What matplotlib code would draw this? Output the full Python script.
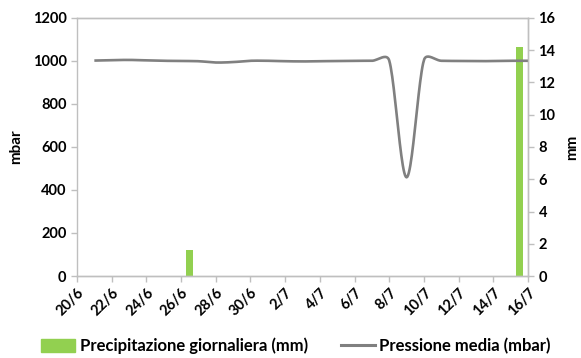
import numpy as np
import matplotlib
matplotlib.use("Agg")
import matplotlib.pyplot as plt
from matplotlib.lines import Line2D
from matplotlib.patches import Patch

# days counted from 20/6
day = np.arange(1, 27)  # 21/6 .. 16/7
pressione = [1002, 1004, 1005, 1003, 1001, 1000, 999, 993, 995, 1001,
             1001, 999, 998, 999, 1000, 1001, 1001, 1002, 459, 1004,
             1001, 1000, 999, 1000, 1001, 1001]
precip = [0, 0, 0, 0, 0, 0, 1.6, 0, 0, 0,
          0, 0, 0, 0, 0, 0, 0, 0, 0, 0,
          0, 0, 0, 0, 0, 14.2]
tick_days = np.arange(0, 27, 2)
tick_labels = ["20/6", "22/6", "24/6", "26/6", "28/6", "30/6", "2/7",
               "4/7", "6/7", "8/7", "10/7", "12/7", "14/7", "16/7"]

GREEN = "#92D050"
GRAY = "#808080"
AXC = "#BFBFBF"

plt.rcParams['font.family'] = ['Lato', 'DejaVu Sans']
plt.rcParams['font.weight'] = 'bold'


def smooth(x, y, sx, sy, n=24):
    # excel style smoothed line: bezier, tangent/6 capped at half the segment
    p = np.column_stack([np.asarray(x, float) * sx, np.asarray(y, float) * sy])
    p = np.vstack([p[0], p, p[-1]])
    t = np.linspace(0, 1, n)[:, None]
    out = []
    for i in range(1, len(p) - 2):
        p0, p1, p2, p3 = p[i-1], p[i], p[i+1], p[i+2]
        d12 = np.linalg.norm(p2 - p1)
        d02 = np.linalg.norm(p2 - p0)
        d13 = np.linalg.norm(p3 - p1)
        f0 = min(1/6, 0.5 * d12 / d02) if d02 > 0 else 0
        f1 = min(1/6, 0.5 * d12 / d13) if d13 > 0 else 0
        c1 = p1 + (p2 - p0) * f0
        c2 = p2 - (p3 - p1) * f1
        out.append((1-t)**3*p1 + 3*(1-t)**2*t*c1 + 3*(1-t)*t**2*c2 + t**3*p2)
    out = np.vstack(out)
    return out[:, 0] / sx, out[:, 1] / sy


fig = plt.figure(figsize=(5.81, 3.58), dpi=100)
ax = fig.add_axes([77/581, 1-276/358, (528-77)/581, (276-18)/358])
ax2 = ax.twinx()

ax2.bar(day - 0.5, precip, width=0.4, color=GREEN)
lx, ly = smooth(day, pressione, 451/26, 258/1200)
ax.plot(lx, ly, color=GRAY, lw=1.9, solid_capstyle='butt')

ax.set_zorder(ax2.get_zorder() + 1)
ax.patch.set_visible(False)

ax.set_xlim(0, 26)
ax.set_ylim(0, 1200)
ax2.set_ylim(0, 16)
ax.set_yticks(np.arange(0, 1201, 200))
ax2.set_yticks(np.arange(0, 17, 2))
ax.set_xticks(tick_days)
ax.set_xticklabels(tick_labels, rotation=45, ha='right', va='top',
                   rotation_mode='anchor')

for a in (ax, ax2):
    for s in a.spines.values():
        s.set_color(AXC)
        s.set_linewidth(1.0)
    a.tick_params(colors=AXC, labelcolor='black', labelsize=10.5, length=4,
                  width=1.0)
ax.tick_params(axis='x', pad=3)
ax2.spines['left'].set_visible(False)

ax.set_ylabel("mbar", fontsize=11, fontweight='bold', labelpad=7)
ax2.set_ylabel("mm", fontsize=11, fontweight='bold', labelpad=7)

handles = [Patch(color=GREEN), Line2D([], [], color=GRAY, lw=2.2)]
fig.legend(handles, ["Precipitazione giornaliera (mm)", "Pressione media (mbar)"],
           loc='center', bbox_to_anchor=(296/581, 1-346/358), ncol=2, frameon=False,
           fontsize=12, handlelength=2.05, handleheight=0.8,
           columnspacing=2.0, handletextpad=0.25)

fig.savefig("out.png", dpi=100)
